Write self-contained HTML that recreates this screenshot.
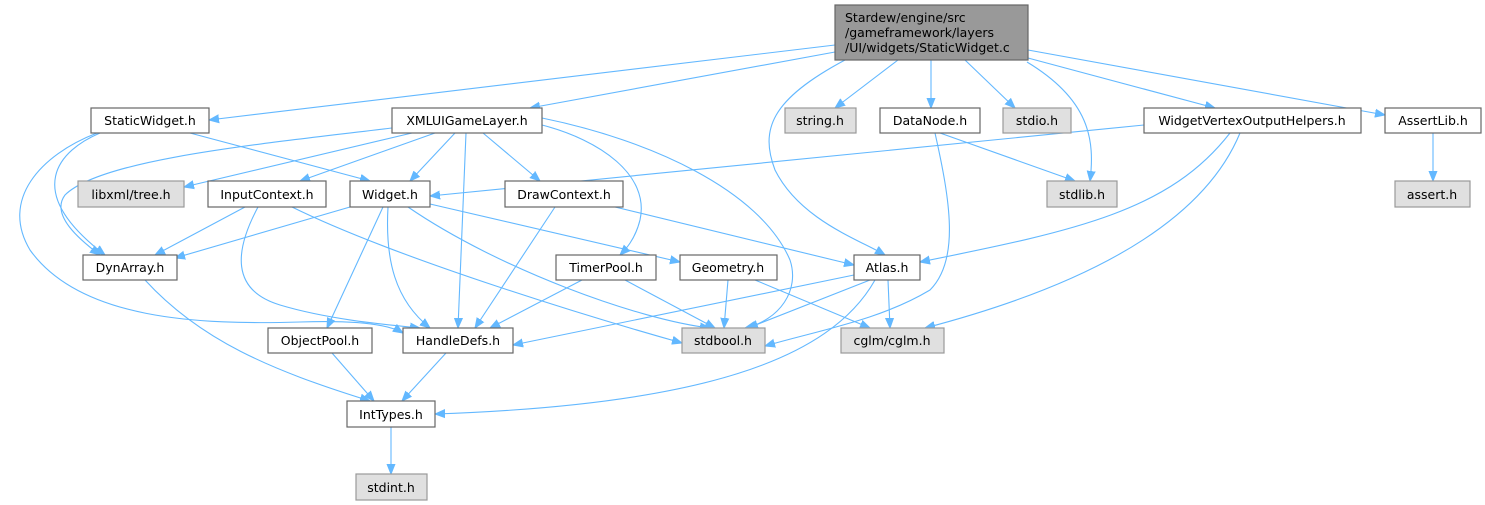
<!DOCTYPE html>
<html><head><meta charset="utf-8"><style>
html,body{margin:0;padding:0;background:#fff;}
svg{display:block;}
text{font-family:"DejaVu Sans","Liberation Sans",sans-serif;font-size:12.5px;fill:#000;}
.e{fill:none;stroke:#63b8ff;stroke-width:1.1;marker-end:url(#a);}
.n{fill:#fff;stroke:#666;stroke-width:1.2;}
.g{fill:#e0e0e0;stroke:#999;stroke-width:1.2;}
</style></head><body>
<svg width="1485" height="505" viewBox="0 0 1485 505" xmlns="http://www.w3.org/2000/svg">
<defs><marker id="a" viewBox="0 0 10 10" refX="10" refY="5" markerWidth="10" markerHeight="10" markerUnits="userSpaceOnUse" orient="auto"><path d="M0,1 L10,5 L0,9 z" fill="#63b8ff" stroke="#63b8ff"/></marker></defs>
<g>
<path class="e" d="M835,45 L209,120"/>
<path class="e" d="M835,52 L530,108"/>
<path class="e" d="M845,60 C770,100 760,130 775,170 C800,220 860,240 885,255"/>
<path class="e" d="M898,60 L835,108"/>
<path class="e" d="M931,60 L931,108"/>
<path class="e" d="M965,60 L1015,108"/>
<path class="e" d="M1027,62 C1090,100 1095,140 1090,181"/>
<path class="e" d="M1028,58 L1215,108"/>
<path class="e" d="M1028,50 L1385,115"/>
<path class="e" d="M190,133 L370,181"/>
<path class="e" d="M100,133 C60,150 20,190 105,255"/>
<path class="e" d="M97,133 C40,155 0,200 30,250 C80,320 200,325 300,322 C360,320 390,325 403,333"/>
<path class="e" d="M392,128 C250,145 100,160 65,195 C50,215 80,240 100,255"/>
<path class="e" d="M412,133 L184,187"/>
<path class="e" d="M435,133 L300,181"/>
<path class="e" d="M455,133 L410,181"/>
<path class="e" d="M466,133 L458,328"/>
<path class="e" d="M483,133 L540,181"/>
<path class="e" d="M542,125 C600,140 650,175 640,220 C635,240 625,250 620,255"/>
<path class="e" d="M542,118 C650,140 760,190 790,260 C800,290 780,320 745,328"/>
<path class="e" d="M1144,125 L430,196"/>
<path class="e" d="M1230,133 C1170,210 1080,230 920,262"/>
<path class="e" d="M1240,133 C1200,230 1070,290 925,328"/>
<path class="e" d="M940,133 L1075,181"/>
<path class="e" d="M935,133 C950,200 960,260 930,290 C880,320 820,330 765,346"/>
<path class="e" d="M1433,133 L1433,181"/>
<path class="e" d="M245,207 L155,255"/>
<path class="e" d="M258,207 C235,250 230,290 280,305 C330,320 390,325 420,328"/>
<path class="e" d="M292,207 C400,260 600,320 682,343"/>
<path class="e" d="M350,207 L175,258"/>
<path class="e" d="M383,207 L327,328"/>
<path class="e" d="M388,207 C385,260 395,300 430,328"/>
<path class="e" d="M408,207 C500,270 640,320 710,328"/>
<path class="e" d="M430,204 L680,262"/>
<path class="e" d="M555,207 L475,328"/>
<path class="e" d="M615,207 L854,265"/>
<path class="e" d="M582,280 L490,328"/>
<path class="e" d="M625,280 L715,328"/>
<path class="e" d="M728,280 L724,328"/>
<path class="e" d="M755,280 L870,328"/>
<path class="e" d="M854,275 L513,345"/>
<path class="e" d="M870,280 L748,328"/>
<path class="e" d="M888,280 L890,328"/>
<path class="e" d="M875,280 C830,360 700,405 435,414"/>
<path class="e" d="M145,280 C200,340 270,370 370,401"/>
<path class="e" d="M332,353 L374,401"/>
<path class="e" d="M446,353 L402,401"/>
<path class="e" d="M391,427 L391,474"/>
</g>
<g>
<rect x="835" y="5" width="193" height="55" fill="#999" stroke="#666" stroke-width="1.2"/>
<text x="845" y="22">Stardew/engine/src</text>
<text x="845" y="37">/gameframework/layers</text>
<text x="845" y="52">/UI/widgets/StaticWidget.c</text>

<rect class="n" x="91" y="108" width="118" height="25"/><text x="150" y="125" text-anchor="middle">StaticWidget.h</text>
<rect class="n" x="392" y="108" width="150" height="25"/><text x="467" y="125" text-anchor="middle">XMLUIGameLayer.h</text>
<rect class="g" x="785" y="108" width="71" height="25"/><text x="820" y="125" text-anchor="middle">string.h</text>
<rect class="n" x="880" y="108" width="100" height="25"/><text x="930" y="125" text-anchor="middle">DataNode.h</text>
<rect class="g" x="1003" y="108" width="68" height="25"/><text x="1037" y="125" text-anchor="middle">stdio.h</text>
<rect class="n" x="1144" y="108" width="217" height="25"/><text x="1252" y="125" text-anchor="middle">WidgetVertexOutputHelpers.h</text>
<rect class="n" x="1385" y="108" width="96" height="25"/><text x="1433" y="125" text-anchor="middle">AssertLib.h</text>

<rect class="g" x="78" y="181" width="106" height="26"/><text x="131" y="199" text-anchor="middle">libxml/tree.h</text>
<rect class="n" x="208" y="181" width="118" height="26"/><text x="267" y="199" text-anchor="middle">InputContext.h</text>
<rect class="n" x="350" y="181" width="80" height="26"/><text x="390" y="199" text-anchor="middle">Widget.h</text>
<rect class="n" x="505" y="181" width="118" height="26"/><text x="564" y="199" text-anchor="middle">DrawContext.h</text>
<rect class="g" x="1047" y="181" width="70" height="26"/><text x="1082" y="199" text-anchor="middle">stdlib.h</text>
<rect class="g" x="1395" y="181" width="75" height="26"/><text x="1432" y="199" text-anchor="middle">assert.h</text>

<rect class="n" x="83" y="255" width="94" height="25"/><text x="130" y="272" text-anchor="middle">DynArray.h</text>
<rect class="n" x="556" y="255" width="100" height="25"/><text x="606" y="272" text-anchor="middle">TimerPool.h</text>
<rect class="n" x="680" y="255" width="97" height="25"/><text x="728" y="272" text-anchor="middle">Geometry.h</text>
<rect class="n" x="854" y="255" width="66" height="25"/><text x="887" y="272" text-anchor="middle">Atlas.h</text>

<rect class="n" x="268" y="328" width="104" height="25"/><text x="320" y="345" text-anchor="middle">ObjectPool.h</text>
<rect class="n" x="403" y="328" width="110" height="25"/><text x="458" y="345" text-anchor="middle">HandleDefs.h</text>
<rect class="g" x="682" y="328" width="83" height="25"/><text x="723" y="345" text-anchor="middle">stdbool.h</text>
<rect class="g" x="841" y="328" width="103" height="25"/><text x="892" y="345" text-anchor="middle">cglm/cglm.h</text>

<rect class="n" x="347" y="401" width="88" height="26"/><text x="391" y="419" text-anchor="middle">IntTypes.h</text>
<rect class="g" x="356" y="474" width="71" height="26"/><text x="391" y="492" text-anchor="middle">stdint.h</text>
</g>
</svg>
</body></html>
